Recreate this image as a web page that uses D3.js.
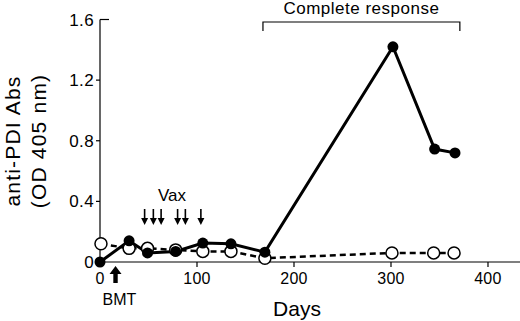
<!DOCTYPE html>
<html>
<head>
<meta charset="utf-8">
<script src="https://cdn.jsdelivr.net/npm/d3@7"></script>
<style>
  body { margin: 0; background: #fff; }
  svg { display: block; font-family: "Liberation Sans", Arial, sans-serif; }
</style>
</head>
<body>
<svg id="chart" width="520" height="321"></svg>
<script>
// valores
const respDays = [0, 30, 49, 78, 106, 135, 170, 302, 345, 366];
const respAbs = [0, 0.14, 0.06, 0.07, 0.125, 0.12, 0.065, 1.42, 0.745, 0.72];
const ctrlDays = [1, 30, 49, 78, 106, 135, 170, 301, 344, 365];
const ctrlAbs = [0.12, 0.09, 0.09, 0.08, 0.07, 0.07, 0.025, 0.06, 0.06, 0.06];
const vaxDays = [46, 55, 63, 80, 88, 104];
const bmtDay = 16;
const responseSpan = [168, 371];
const xTicks = [0, 100, 200, 300, 400];
const yTicks = [0, 0.4, 0.8, 1.2, 1.6];

const svg = d3.select("#chart");
const x = d3.scaleLinear().domain([0, 433]).range([100, 520]);
const y = d3.scaleLinear().domain([0, 1.6]).range([262, 19.5]);

// eixo x
svg.append("line").attr("x1", x(0)).attr("x2", 520).attr("y1", y(0)).attr("y2", y(0))
  .attr("stroke", "#000").attr("stroke-width", 1.2);
xTicks.forEach(t => {
  if (t > 0) svg.append("line").attr("x1", x(t)).attr("x2", x(t)).attr("y1", y(0)).attr("y2", y(0) + 5)
    .attr("stroke", "#000").attr("stroke-width", 1.2);
  svg.append("text").attr("x", x(t)).attr("y", 284).attr("text-anchor", "middle")
    .attr("font-size", 16).attr("letter-spacing", 0.3).text(t);
});

// eixo y
svg.append("line").attr("x1", x(0)).attr("x2", x(0)).attr("y1", y(0)).attr("y2", y(1.6))
  .attr("stroke", "#000").attr("stroke-width", 1.2);
yTicks.forEach(t => {
  if (t === 1.6) {
    svg.append("line").attr("x1", x(0)).attr("x2", x(0) + 9).attr("y1", y(t)).attr("y2", y(t))
      .attr("stroke", "#000").attr("stroke-width", 1.2);
  } else if (t > 0) {
    svg.append("line").attr("x1", x(0) - 4).attr("x2", x(0)).attr("y1", y(t)).attr("y2", y(t))
      .attr("stroke", "#000").attr("stroke-width", 1.2);
  }
  svg.append("text").attr("x", 94).attr("y", y(t) + 6).attr("text-anchor", "end")
    .attr("font-size", 17).attr("letter-spacing", 0.4).text(t === 0 ? "0" : t.toFixed(1));
});

svg.append("text").attr("x", 297).attr("y", 316).attr("text-anchor", "middle")
  .attr("font-size", 21).text("Days");

const yTitle = svg.append("text").attr("transform", "translate(0,141) rotate(-90)")
  .attr("text-anchor", "middle").attr("font-size", 21).attr("letter-spacing", 1.2);
yTitle.append("tspan").attr("x", 0).attr("y", 20).text("anti-PDI Abs");
yTitle.append("tspan").attr("x", 0).attr("y", 46).text("(OD 405 nm)");

// linhas
const line = d3.line().x(d => x(d[0])).y(d => y(d[1]));
const ctrl = d3.zip(ctrlDays, ctrlAbs);
const resp = d3.zip(respDays, respAbs);

svg.append("path").datum(ctrl).attr("d", line).attr("fill", "none")
  .attr("stroke", "#000").attr("stroke-width", 2.5).attr("stroke-dasharray", "6,4");
svg.append("path").datum(resp).attr("d", line).attr("fill", "none")
  .attr("stroke", "#000").attr("stroke-width", 3);

svg.selectAll("circle.ctrl").data(ctrl).join("circle").attr("class", "ctrl")
  .attr("cx", d => x(d[0])).attr("cy", d => y(d[1])).attr("r", 6)
  .attr("fill", "#fff").attr("stroke", "#000").attr("stroke-width", 1.5);
svg.selectAll("circle.resp").data(resp).join("circle").attr("class", "resp")
  .attr("cx", d => x(d[0])).attr("cy", d => y(d[1])).attr("r", 5.5)
  .attr("fill", "#000");

// setas de vacinação
vaxDays.forEach(d => {
  const cx = x(d);
  svg.append("line").attr("x1", cx).attr("x2", cx).attr("y1", 209).attr("y2", 219)
    .attr("stroke", "#000").attr("stroke-width", 1.6);
  svg.append("path").attr("d", `M${cx - 3.5},218 L${cx + 3.5},218 L${cx},225 Z`).attr("fill", "#000");
});
svg.append("text").attr("x", 172).attr("y", 201).attr("text-anchor", "middle")
  .attr("font-size", 17).text("Vax");

// seta BMT
const bx = x(bmtDay);
svg.append("path")
  .attr("d", `M${bx},266 L${bx + 6},274 L${bx + 2.2},274 L${bx + 2.2},283 L${bx - 2.2},283 L${bx - 2.2},274 L${bx - 6},274 Z`)
  .attr("fill", "#000");
svg.append("text").attr("x", 119.5).attr("y", 305).attr("text-anchor", "middle")
  .attr("font-size", 16).text("BMT");

// colchete "Complete response"
const [s0, s1] = responseSpan.map(x);
svg.append("path").attr("d", `M${s0},31 L${s0},22 L${s1},22 L${s1},31`)
  .attr("fill", "none").attr("stroke", "#000").attr("stroke-width", 1.2);
svg.append("text").attr("x", (s0 + s1) / 2).attr("y", 14).attr("text-anchor", "middle")
  .attr("font-size", 17).attr("letter-spacing", 0.5).text("Complete response");
</script>
</body>
</html>
